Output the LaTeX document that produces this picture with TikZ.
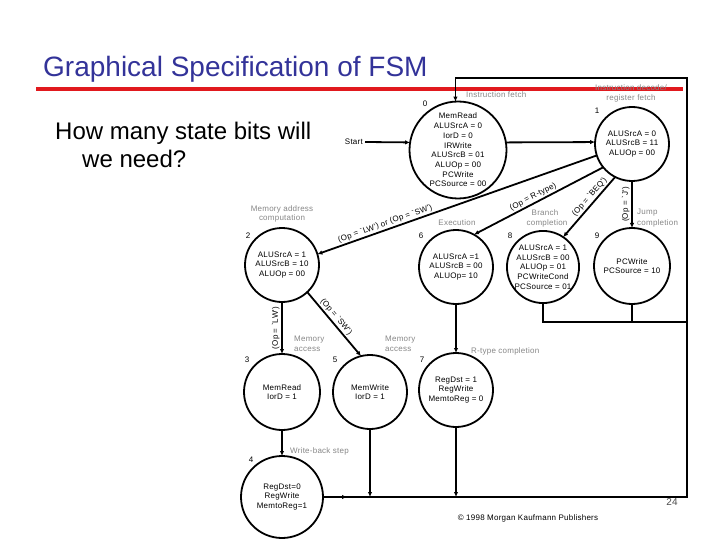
\documentclass[tikz,border=0pt]{standalone}
\usepackage{fontspec}
\setmainfont{Liberation Sans}
\newfontfamily\smallfnt[LetterSpace=3]{Liberation Sans}
\usetikzlibrary{arrows.meta,calc}
\definecolor{titleblue}{RGB}{51,51,153}
\definecolor{slidered}{RGB}{225,25,30}
\definecolor{descgray}{RGB}{135,135,135}
\begin{document}
\begin{tikzpicture}[x=1pt,y=-1pt,
  st/.style={circle,draw,line width=1.8pt,inner sep=0pt,outer sep=0pt,align=center,
    font=\smallfnt\fontsize{8}{9.7}\selectfont},
  arr/.style={line width=1.8pt,-{Latex[length=5pt,width=4.5pt]}},
  ln/.style={line width=1.8pt},
  desc/.style={font=\smallfnt\fontsize{8}{9.5}\selectfont,text=descgray,inner sep=0pt},
  num/.style={font=\smallfnt\fontsize{8}{9}\selectfont,inner sep=0pt},
  elab/.style={font=\smallfnt\fontsize{8}{9}\selectfont,inner sep=1.5pt},
]
\fill[white] (0,0) rectangle (720,540);
\useasboundingbox (0,0) rectangle (720,540);

% title and red rule
\node[anchor=base west,inner sep=0pt,text=titleblue,font=\fontsize{28}{30}\selectfont] (title) at (43,77) {Graphical Specification of FSM};
\draw[slidered,line width=4pt] (36,89) coordinate (redL) -- (683,89) coordinate (redR);

% question
\node[anchor=base west,inner sep=0pt,font=\fontsize{24}{28}\selectfont] (q1) at (55,140) {How many state bits will};
\node[anchor=base west,inner sep=0pt,font=\fontsize{24}{28}\selectfont] (q2) at (82,168) {we need?};

% states
\node[st,minimum size=97pt] (s0) at (458,150) {MemRead\\ALUSrcA = 0\\IorD = 0\\IRWrite\\ALUSrcB = 01\\ALUOp = 00\\PCWrite\\PCSource = 00};
\node[st,minimum size=74pt] (s1) at (632,144) {ALUSrcA = 0\\ALUSrcB = 11\\ALUOp = 00};
\node[st,minimum size=74pt] (s2) at (282,265) {ALUSrcA = 1\\ALUSrcB = 10\\ALUOp = 00};
\node[st,minimum size=74pt] (s6) at (456,267) {ALUSrcA =1\\ALUSrcB = 00\\ALUOp= 10};
\node[st,minimum size=72pt] (s8) at (543,267) {ALUSrcA = 1\\ALUSrcB = 00\\ALUOp = 01\\PCWriteCond\\PCSource = 01};
\node[st,minimum size=76pt] (s9) at (632,266) {PCWrite\\PCSource = 10};
\node[st,minimum size=76pt] (s3) at (282,392) {MemRead\\IorD = 1};
\node[st,minimum size=74pt] (s5) at (370,392) {MemWrite\\IorD = 1};
\node[st,minimum size=74pt] (s7) at (456,390) {RegDst = 1\\RegWrite\\MemtoReg = 0};
\node[st,minimum size=82pt] (s4) at (282,497) {RegDst=0\\RegWrite\\MemtoReg=1};

% state numbers
\node[num] (n0) at (425,104) {0};
\node[num] (n1) at (597,111) {1};
\node[num] (n2) at (248,236) {2};
\node[num] (n6) at (421,236) {6};
\node[num] (n8) at (510,236) {8};
\node[num] (n9) at (597,236) {9};
\node[num] (n3) at (247,360) {3};
\node[num] (n5) at (335,360) {5};
\node[num] (n7) at (422,360) {7};
\node[num] (n4) at (251,460) {4};

% descriptions
\node[desc,anchor=west] (d0) at (466,95) {Instruction fetch};
\node[desc] (d1a) at (631,88) {Instruction decode/};
\node[desc] (d1b) at (631,98) {register fetch};
\node[desc] (d2a) at (282,209) {Memory address};
\node[desc] (d2b) at (282,218) {computation};
\node[desc] (d6) at (457,223) {Execution};
\node[desc] (d8a) at (545,213) {Branch};
\node[desc] (d8b) at (547,223) {completion};
\node[desc,anchor=west] (d9a) at (637,213) {Jump};
\node[desc,anchor=west] (d9b) at (637,223) {completion};
\node[desc,anchor=west] (d3a) at (294,340) {Memory};
\node[desc,anchor=west] (d3b) at (294,349) {access};
\node[desc,anchor=west] (d5a) at (385,340) {Memory};
\node[desc,anchor=west] (d5b) at (385,349) {access};
\node[desc,anchor=west] (d7) at (471,351) {R-type completion};
\node[desc,anchor=west] (d4) at (290,451) {Write-back step};

% start
\node[num,inner sep=2pt,anchor=east] (start) at (365,142) {Start};
\draw[arr] (start.east) -- (s0.171);

% transitions
\draw[arr] (s0.9) -- (s1.177);
\draw[arr] (s1.198) -- node[elab,sloped,above,pos=0.75] (l12) {(Op = `LW') or (Op = `SW')} (s2.17.5);
\draw[arr] (s1.219) -- node[elab,sloped,above,pos=0.52] (l16) {(Op = R-type)} (s6.61.5);
\draw[arr] (s1.243) -- node[elab,sloped,above,pos=0.4] (l18) {(Op = `BEQ')} (s8.56);
\draw[arr] (s1.south) -- node[elab,rotate=90,anchor=south,midway] (l19) {(Op = `J')} (s9.north);
\draw[arr] (s2.south) -- node[elab,rotate=90,anchor=south,midway] (l23) {(Op = `LW')} (s3.north);
\draw[arr] (s2.313) -- node[elab,sloped,above,pos=0.45] (l25) {(Op = `SW')} (s5.104);
\draw[arr] (s6.south) -- (s7.north);
\draw[arr] (s3.south) -- (s4.north);

% return paths
\coordinate (br) at (687,497);
\coordinate (tr) at (687,78);
\coordinate (mr) at (687,322);
\draw[ln] (s4.east) -- (br) -- (tr) -| (s0.93.5);
\draw[arr] (tr -| s0.93.5) -- (s0.93.5);
\draw[arr] (s4.east) -- (347,497);
\draw[arr] (s5.south) -- (s5.south |- br);
\draw[arr] (s7.south) -- (s7.south |- br);
\draw[ln] (s8.south) |- (mr);
\draw[ln] (s9.south) -- (s9.south |- mr);

% footer
\node[inner sep=0pt,text=gray!60!black,font=\fontsize{10}{12}\selectfont] (page) at (672,502) {24};
\node[inner sep=0pt,font=\smallfnt\fontsize{8}{9}\selectfont] (copy) at (528,518) {© 1998 Morgan Kaufmann Publishers};
\end{tikzpicture}
\end{document}
